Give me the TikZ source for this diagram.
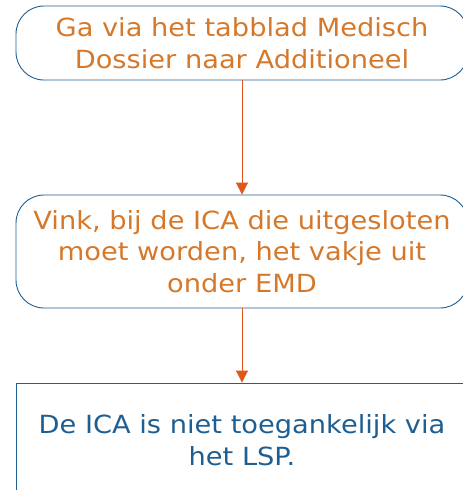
\documentclass[tikz,border=0pt]{standalone}
\usepackage{fontspec}
\setmainfont{DejaVu Sans}[FakeStretch=1.09]
\usetikzlibrary{arrows.meta}

\definecolor{stepblue}{RGB}{31,94,145}
\definecolor{steporange}{RGB}{214,120,42}
\definecolor{arroworange}{RGB}{224,86,27}

\begin{document}
\begin{tikzpicture}[x=1pt,y=-1pt,
    stepbox/.style={draw=stepblue, line width=0.9pt, rounded corners=28pt,
        minimum width=452pt, align=center, text=steporange,
        font=\fontsize{25}{31.5}\selectfont},
    endbox/.style={draw=stepblue, line width=0.9pt, minimum width=452pt,
        minimum height=114pt, align=center, text=stepblue,
        font=\fontsize{25}{31.5}\selectfont},
    flow/.style={arroworange, line width=0.9pt, -{Triangle[length=12pt,width=12pt]}}]
            \useasboundingbox (0,0) rectangle (463,490);
            \clip (0,0) rectangle (463,490);
            % Steps
            \node[stepbox, minimum height=74pt] (tab) at (242,43) {Ga via het tabblad Medisch\\Dossier naar Additioneel};
            \node[stepbox, minimum height=113pt] (vink) at (242,251.5) {Vink, bij de ICA die uitgesloten\\moet worden, het vakje uit\\onder EMD};
            % Result
            \node[endbox] (lsp) at (242,440) {De ICA is niet toegankelijk via\\het LSP.};
            % Connect the steps
            \draw[flow] (tab) -- (vink);
            \draw[flow] (vink) -- (lsp);
\end{tikzpicture}
\end{document}
